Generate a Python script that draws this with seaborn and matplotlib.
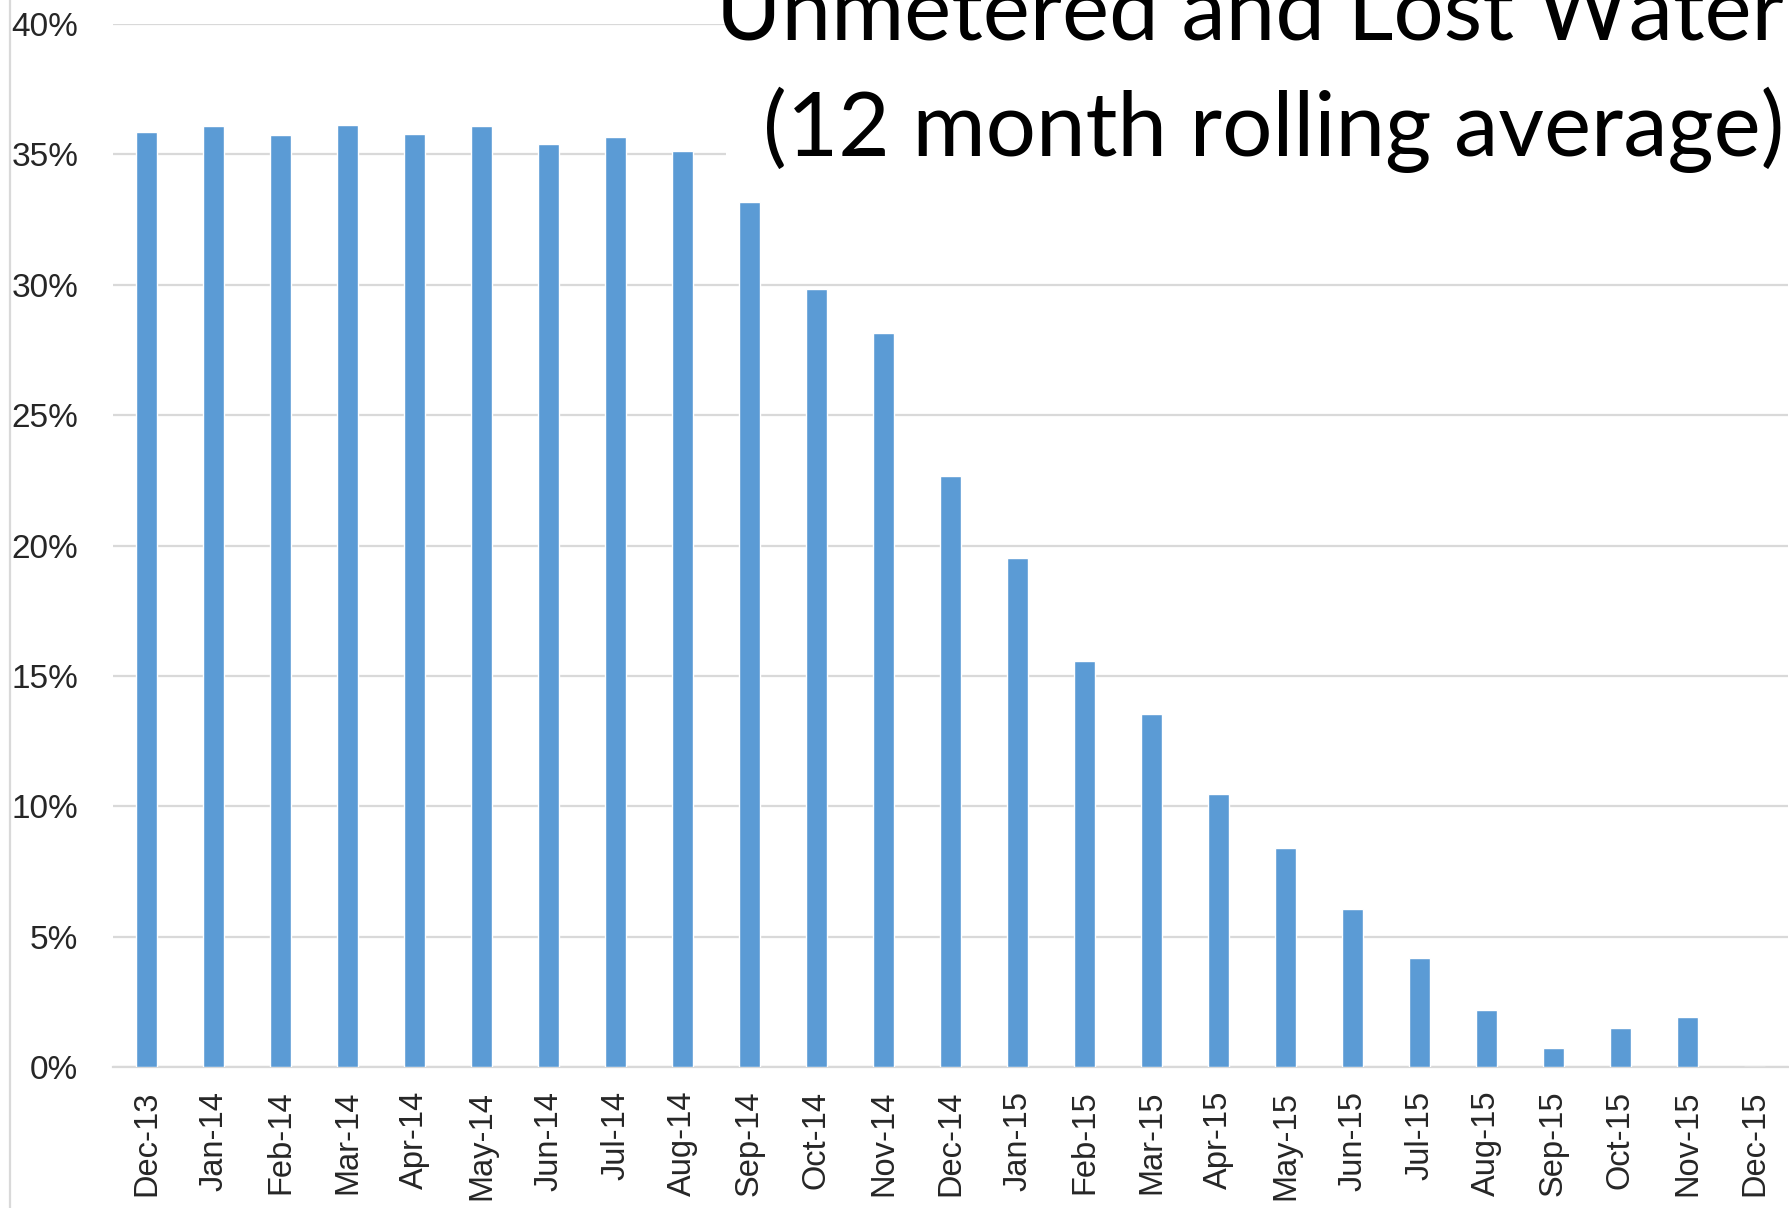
import numpy as np
import pandas as pd
import seaborn as sns
import matplotlib.pyplot as plt
from matplotlib.lines import Line2D
from matplotlib.patches import Rectangle

months = ["Dec-13", "Jan-14", "Feb-14", "Mar-14", "Apr-14", "May-14", "Jun-14",
          "Jul-14", "Aug-14", "Sep-14", "Oct-14", "Nov-14", "Dec-14", "Jan-15",
          "Feb-15", "Mar-15", "Apr-15", "May-15", "Jun-15", "Jul-15", "Aug-15",
          "Sep-15", "Oct-15", "Nov-15", "Dec-15"]
lost_pct = [35.84, 36.08, 35.76, 36.12, 35.8, 36.1, 35.4, 35.67, 35.14, 33.17,
            29.85, 28.14, 22.67, 19.52, 15.58, 13.52, 10.46, 8.40, 6.05, 4.18,
            2.19, 0.73, 1.51, 1.90, 0.0]
y_ticks = [0, 5, 10, 15, 20, 25, 30, 35, 40]
title_lines = ["Unmetered and Lost Water", "(12 month rolling average)"]

W, H = 1790, 1208
sns.set_style("white")
plt.rcParams['font.family'] = ['Liberation Sans', 'DejaVu Sans']

df = pd.DataFrame({"month": months, "pct": lost_pct})

fig = plt.figure(figsize=(W / 100, H / 100), dpi=100)
ax = fig.add_axes([113 / W, 1 - 1067 / H, 1675 / W, (1067 - 24) / H])

sns.barplot(data=df, x="month", y="pct", color="#5B9BD5", saturation=1,
            width=0.31, ax=ax, zorder=3)

ax.set_xlim(-0.5, len(months) - 0.5)
ax.set_ylim(0, 40)
ax.set_yticks(y_ticks)
ax.set_yticklabels([f"{t}%" for t in y_ticks])
ax.set_xlabel("")
ax.set_ylabel("")
ax.grid(axis="y", color="#D9D9D9", linewidth=1.6, zorder=0)
ax.set_axisbelow(True)
for s in ["left", "right", "top"]:
    ax.spines[s].set_visible(False)
ax.spines["bottom"].set_color("#D9D9D9")
ax.spines["bottom"].set_linewidth(1.6)
ax.tick_params(axis="y", length=0, pad=25, labelsize=24)
ax.tick_params(axis="x", length=0, pad=17, labelsize=23.5, rotation=90)

# slide border on the left
fig.add_artist(Line2D([10 / W, 10 / W], [0, 1], color="#D9D9D9", linewidth=1.6))

# title box hides the gridlines behind it
fig.add_artist(Rectangle((726 / W, 1 - 172 / H), 1 - 726 / W, 172 / H,
                         facecolor="white", edgecolor="none", zorder=5))
fig.text(1784 / W, 1 - 40 / H, title_lines[0], ha="right", va="baseline",
         fontsize=64, family="Lato", color="black", zorder=6)
fig.text(1784 / W, 1 - 156 / H, title_lines[1], ha="right", va="baseline",
         fontsize=64, family="Lato", color="black", zorder=6)

fig.savefig("out.png", dpi=100)
